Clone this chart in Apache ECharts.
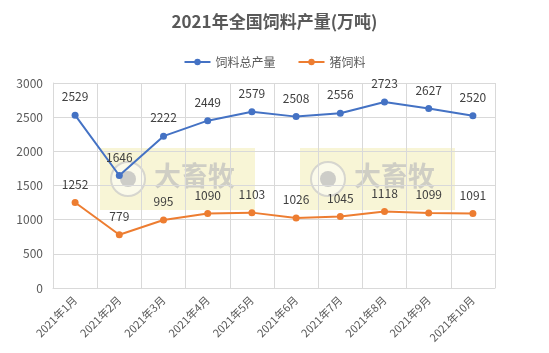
<!DOCTYPE html>
<html>
<head>
<meta charset="utf-8">
<script src="https://cdn.jsdelivr.net/npm/echarts@6/dist/echarts.min.js"></script>
<style>
html,body{margin:0;padding:0;background:#fff;}
#main{width:549px;height:353px;}
</style>
</head>
<body>
<div id="main"></div>
<script>
var months = ['2021年1月','2021年2月','2021年3月','2021年4月','2021年5月','2021年6月','2021年7月','2021年8月','2021年9月','2021年10月'];
var totalFeed = [2529, 1646, 2222, 2449, 2579, 2508, 2556, 2723, 2627, 2520];
var pigFeed = [1252, 779, 995, 1090, 1103, 1026, 1045, 1118, 1099, 1091];

var myChart = echarts.init(document.getElementById('main'));
var font = '"Noto Sans CJK SC", "Microsoft YaHei", sans-serif';

// watermark boxes
function mark(left) {
    return {
        type: 'group', left: left, top: 148, z: -1,
        children: [
            { type: 'rect', shape: { x: 0, y: 0, width: 155, height: 62 }, style: { fill: 'rgba(242,236,180,0.55)' } },
            { type: 'circle', shape: { cx: 28, cy: 31, r: 17 }, style: { fill: 'rgba(255,255,255,0.5)', stroke: 'rgba(200,200,200,0.7)', lineWidth: 2 } },
            { type: 'circle', shape: { cx: 28, cy: 31, r: 8 }, style: { fill: 'rgba(185,185,185,0.7)' } },
            { type: 'text', left: 54, top: 14, style: { text: '大畜牧', fill: 'rgba(190,190,190,0.7)', font: 'bold 27px ' + font } }
        ]
    };
}

option = {
    textStyle: { fontFamily: font },
    title: {
        text: '2021年全国饲料产量(万吨)',
        left: 'center',
        top: 8,
        textStyle: { fontSize: 17, fontWeight: 'bold', color: '#595959', fontFamily: font }
    },
    legend: {
        top: 51,
        left: 'center',
        itemWidth: 26,
        itemHeight: 8,
        itemGap: 22,
        textStyle: { fontSize: 12, color: '#595959' },
        data: ['饲料总产量', '猪饲料']
    },
    graphic: [mark(100), mark(300)],
    grid: { left: 53, right: 54, top: 83, bottom: 65 },
    xAxis: {
        type: 'category',
        data: months,
        boundaryGap: true,
        axisLine: { lineStyle: { color: '#d9d9d9' } },
        axisTick: { show: false },
        splitLine: { show: true, lineStyle: { color: '#d9d9d9' } },
        axisLabel: { rotate: 45, color: '#595959', fontSize: 11, interval: 0, margin: 10 }
    },
    yAxis: {
        type: 'value',
        min: 0,
        max: 3000,
        interval: 500,
        axisLine: { show: true, lineStyle: { color: '#d9d9d9' } },
        splitLine: { lineStyle: { color: '#d9d9d9' } },
        axisLabel: { color: '#595959', fontSize: 12, margin: 10, formatter: function (v) { return String(v); } }
    },
    series: [
        {
            name: '饲料总产量',
            type: 'line',
            data: totalFeed,
            color: '#4472c4',
            symbol: 'circle',
            symbolSize: 7,
            lineStyle: { width: 2 },
            label: { show: true, position: 'top', distance: 9, color: '#404040', fontSize: 12 }
        },
        {
            name: '猪饲料',
            type: 'line',
            data: pigFeed,
            color: '#ed7d31',
            symbol: 'circle',
            symbolSize: 7,
            lineStyle: { width: 2 },
            label: { show: true, position: 'top', distance: 9, color: '#404040', fontSize: 12 }
        }
    ]
};
myChart.setOption(option);
</script>
</body>
</html>
